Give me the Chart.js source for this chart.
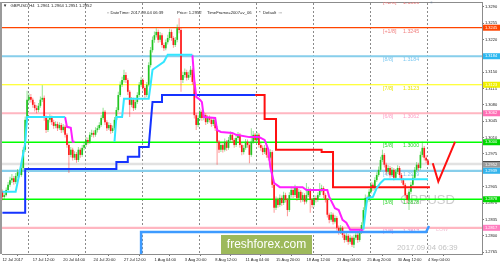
<!DOCTYPE html>
<html><head><meta charset="utf-8">
<script src="https://cdn.jsdelivr.net/npm/chart.js@4.4.1/dist/chart.umd.min.js"></script>
<style>html,body{margin:0;padding:0;background:#fff;overflow:hidden}canvas{display:block}</style>
</head><body>
<canvas id="c" width="500" height="266"></canvas>
<script>
// ---- GBPUSD H4 candles (bar index 0 = 12 Jul 2017 20:00) ----
const opens = [
1.2895,1.2883,1.2887,1.2898,1.2909,1.2919,1.2923,1.2915,1.2928,1.2936,
1.2930,1.2945,1.2984,1.3048,1.3091,1.3097,1.3091,1.3080,1.3073,1.3069,
1.3078,1.3091,1.3095,1.3052,1.3026,1.3048,1.3052,1.3043,1.3035,1.3039,
1.3030,1.3037,1.3026,1.3033,1.3016,1.2994,1.2973,1.2984,1.2967,1.2975,
1.2962,1.2984,1.2973,1.2988,1.2994,1.3005,1.3001,1.3016,1.3020,1.3016,
1.3026,1.3030,1.3037,1.3052,1.3065,1.3043,1.3030,1.3037,1.3024,1.3030,
1.3048,1.3069,1.3101,1.3123,1.3133,1.3144,1.3133,1.3108,1.3080,1.3091,
1.3073,1.3086,1.3101,1.3123,1.3133,1.3116,1.3101,1.3123,1.3165,1.3197,
1.3219,1.3229,1.3236,1.3219,1.3229,1.3208,1.3201,1.3214,1.3223,1.3236,
1.3223,1.3208,1.3219,1.3244,1.3240,1.3133,1.3144,1.3150,1.3138,1.3144,
1.3155,1.3129,1.3058,1.3037,1.3052,1.3065,1.3052,1.3058,1.3043,1.3052,
1.3048,1.3039,1.3048,1.3030,1.3001,1.2984,1.2994,1.2984,1.3001,1.2988,
1.3005,1.3016,1.3005,1.2994,1.3009,1.3016,1.2994,1.2979,1.2988,1.3001,
1.2994,1.2973,1.3001,1.3016,1.3005,1.3016,1.2994,1.2988,1.2979,1.2988,
1.2973,1.2967,1.2979,1.2909,1.2860,1.2877,1.2866,1.2881,1.2870,1.2887,
1.2877,1.2855,1.2887,1.2898,1.2887,1.2902,1.2881,1.2894,1.2877,1.2887,
1.2873,1.2887,1.2898,1.2877,1.2866,1.2881,1.2877,1.2887,1.2898,1.2902,
1.2887,1.2877,1.2845,1.2834,1.2845,1.2830,1.2838,1.2817,1.2808,1.2817,
1.2802,1.2791,1.2800,1.2787,1.2796,1.2781,1.2796,1.2802,1.2791,1.2808,
1.2823,1.2855,1.2881,1.2877,1.2894,1.2909,1.2902,1.2919,1.2930,1.2941,
1.2962,1.2973,1.2952,1.2937,1.2945,1.2930,1.2941,1.2924,1.2937,1.2945,
1.2930,1.2919,1.2909,1.2887,1.2877,1.2894,1.2909,1.2924,1.2941,1.2952,
1.2945,1.2973,1.2988,1.2967,1.2961];
const highs = [
1.2899,1.2892,1.2903,1.2915,1.2926,1.2932,1.2928,1.2934,1.2943,1.2941,
1.2951,1.2990,1.3055,1.3110,1.3105,1.3103,1.3095,1.3086,1.3079,1.3084,
1.3098,1.3122,1.3100,1.3057,1.3053,1.3060,1.3057,1.3048,1.3045,1.3044,
1.3043,1.3041,1.3039,1.3037,1.3020,1.2998,1.2990,1.2988,1.2981,1.2979,
1.2990,1.2988,1.2994,1.3001,1.3011,1.3010,1.3022,1.3027,1.3025,1.3032,
1.3036,1.3043,1.3058,1.3074,1.3069,1.3047,1.3043,1.3041,1.3036,1.3054,
1.3075,1.3108,1.3130,1.3140,1.3155,1.3150,1.3137,1.3112,1.3097,1.3095,
1.3092,1.3107,1.3129,1.3140,1.3137,1.3120,1.3129,1.3171,1.3204,1.3226,
1.3237,1.3244,1.3241,1.3236,1.3233,1.3213,1.3220,1.3230,1.3243,1.3241,
1.3227,1.3225,1.3252,1.3265,1.3245,1.3151,1.3158,1.3155,1.3151,1.3163,
1.3159,1.3133,1.3062,1.3058,1.3072,1.3069,1.3065,1.3062,1.3058,1.3057,
1.3052,1.3054,1.3052,1.3034,1.3005,1.3000,1.2998,1.3008,1.3005,1.3011,
1.3023,1.3020,1.3009,1.3015,1.3022,1.3020,1.2998,1.2994,1.3007,1.3006,
1.2998,1.3030,1.3024,1.3020,1.3022,1.3020,1.2999,1.2993,1.2994,1.2992,
1.2978,1.2985,1.2983,1.2913,1.2884,1.2882,1.2888,1.2886,1.2894,1.2892,
1.2881,1.2893,1.2905,1.2903,1.2909,1.2906,1.2900,1.2898,1.2893,1.2891,
1.2913,1.2905,1.2902,1.2881,1.2887,1.2886,1.2893,1.2913,1.2909,1.2906,
1.2891,1.2881,1.2849,1.2851,1.2849,1.2844,1.2842,1.2822,1.2823,1.2821,
1.2806,1.2806,1.2804,1.2802,1.2800,1.2802,1.2808,1.2806,1.2814,1.2829,
1.2861,1.2888,1.2886,1.2900,1.2915,1.2914,1.2925,1.2936,1.2948,1.2969,
1.2984,1.2977,1.2956,1.2951,1.2949,1.2947,1.2945,1.2943,1.2951,1.2949,
1.2934,1.2923,1.2913,1.2891,1.2900,1.2915,1.2930,1.2947,1.2958,1.2956,
1.2980,1.3001,1.2992,1.2972,1.2964];
const lows = [
1.2876,1.2878,1.2884,1.2894,1.2905,1.2913,1.2909,1.2911,1.2924,1.2925,
1.2926,1.2941,1.2979,1.3043,1.3084,1.3085,1.3074,1.3066,1.3062,1.3064,
1.3074,1.3086,1.3046,1.3020,1.3022,1.3042,1.3037,1.3029,1.3030,1.3024,
1.3026,1.3020,1.3021,1.3010,1.2988,1.2934,1.2968,1.2961,1.2962,1.2956,
1.2958,1.2967,1.2969,1.2983,1.2990,1.2995,1.2997,1.3011,1.3010,1.3012,
1.3021,1.3026,1.3033,1.3048,1.3037,1.3024,1.3026,1.3018,1.3020,1.3026,
1.3044,1.3065,1.3097,1.3118,1.3128,1.3127,1.3101,1.3054,1.3075,1.3067,
1.3069,1.3082,1.3097,1.3118,1.3110,1.3095,1.3097,1.3119,1.3160,1.3192,
1.3213,1.3224,1.3213,1.3214,1.3202,1.3195,1.3197,1.3209,1.3218,1.3217,
1.3202,1.3204,1.3214,1.3233,1.3108,1.3127,1.3138,1.3132,1.3133,1.3139,
1.3123,1.3051,1.3026,1.3032,1.3047,1.3046,1.3047,1.3037,1.3039,1.3042,
1.3033,1.3035,1.3024,1.2952,1.2977,1.2979,1.2978,1.2980,1.2982,1.2984,
1.3000,1.2999,1.2988,1.2990,1.3004,1.2988,1.2972,1.2974,1.2984,1.2988,
1.2955,1.2969,1.2997,1.2999,1.3001,1.2988,1.2982,1.2973,1.2975,1.2967,
1.2961,1.2963,1.2902,1.2849,1.2855,1.2860,1.2862,1.2864,1.2866,1.2871,
1.2842,1.2851,1.2882,1.2881,1.2883,1.2875,1.2877,1.2871,1.2873,1.2867,
1.2869,1.2883,1.2849,1.2860,1.2862,1.2871,1.2873,1.2883,1.2893,1.2881,
1.2871,1.2839,1.2827,1.2830,1.2824,1.2826,1.2811,1.2802,1.2804,1.2796,
1.2785,1.2787,1.2781,1.2783,1.2776,1.2774,1.2791,1.2785,1.2787,1.2804,
1.2819,1.2851,1.2871,1.2873,1.2890,1.2896,1.2898,1.2915,1.2926,1.2937,
1.2957,1.2946,1.2931,1.2932,1.2924,1.2926,1.2918,1.2920,1.2932,1.2924,
1.2913,1.2903,1.2881,1.2870,1.2855,1.2889,1.2905,1.2920,1.2937,1.2939,
1.2941,1.2968,1.2961,1.2955,1.2951];
const closes = [
1.2883,1.2887,1.2898,1.2909,1.2919,1.2923,1.2915,1.2928,1.2936,1.2930,
1.2945,1.2984,1.3048,1.3091,1.3097,1.3091,1.3080,1.3073,1.3069,1.3078,
1.3091,1.3095,1.3052,1.3026,1.3048,1.3052,1.3043,1.3035,1.3039,1.3030,
1.3037,1.3026,1.3033,1.3016,1.2994,1.2973,1.2984,1.2967,1.2975,1.2962,
1.2984,1.2973,1.2988,1.2994,1.3005,1.3001,1.3016,1.3020,1.3016,1.3026,
1.3030,1.3037,1.3052,1.3065,1.3043,1.3030,1.3037,1.3024,1.3030,1.3048,
1.3069,1.3101,1.3123,1.3133,1.3144,1.3133,1.3108,1.3080,1.3091,1.3073,
1.3086,1.3101,1.3123,1.3133,1.3116,1.3101,1.3123,1.3165,1.3197,1.3219,
1.3229,1.3236,1.3219,1.3229,1.3208,1.3201,1.3214,1.3223,1.3236,1.3223,
1.3208,1.3219,1.3244,1.3240,1.3133,1.3144,1.3150,1.3138,1.3144,1.3155,
1.3129,1.3058,1.3037,1.3052,1.3065,1.3052,1.3058,1.3043,1.3052,1.3048,
1.3039,1.3048,1.3030,1.3001,1.2984,1.2994,1.2984,1.3001,1.2988,1.3005,
1.3016,1.3005,1.2994,1.3009,1.3016,1.2994,1.2979,1.2988,1.3001,1.2994,
1.2973,1.3001,1.3016,1.3005,1.3016,1.2994,1.2988,1.2979,1.2988,1.2973,
1.2967,1.2979,1.2909,1.2860,1.2877,1.2866,1.2881,1.2870,1.2887,1.2877,
1.2855,1.2887,1.2898,1.2887,1.2902,1.2881,1.2894,1.2877,1.2887,1.2873,
1.2887,1.2898,1.2877,1.2866,1.2881,1.2877,1.2887,1.2898,1.2902,1.2887,
1.2877,1.2845,1.2834,1.2845,1.2830,1.2838,1.2817,1.2808,1.2817,1.2802,
1.2791,1.2800,1.2787,1.2796,1.2781,1.2796,1.2802,1.2791,1.2808,1.2823,
1.2855,1.2881,1.2877,1.2894,1.2909,1.2902,1.2919,1.2930,1.2941,1.2962,
1.2973,1.2952,1.2937,1.2945,1.2930,1.2941,1.2924,1.2937,1.2945,1.2930,
1.2919,1.2909,1.2887,1.2877,1.2894,1.2909,1.2924,1.2941,1.2952,1.2945,
1.2973,1.2988,1.2967,1.2961,1.2952];

// ---- axes ----
const xTickBars = [0,16,32,48,64,80,96,112,128,144,160,176,192,208,224];
const xTickLabels = ['12 Jul 2017','17 Jul 12:00','20 Jul 04:00','24 Jul 20:00','27 Jul 12:00','1 Aug 04:00','3 Aug 20:00','8 Aug 12:00','11 Aug 04:00','15 Aug 20:00','18 Aug 12:00','23 Aug 04:00','25 Aug 20:00','30 Aug 12:00','4 Sep 04:00'];
const gridBars = [13.5,43.5,73.5,103.5,133.5,163.5,193.5,223.5];
const yTicks = [1.3290,1.3255,1.3220,1.3185,1.3150,1.3115,1.3080,1.3045,1.3010,1.2975,1.2940,1.2905,1.2870,1.2835,1.2800,1.2765];

// ---- Murrey levels ----
const levelNames  = ['[+2/8]','[+1/8]','[8/8]','[7/8]','[6/8]','[5/8]','[4/8]','[3/8]','[2/8]'];
const levelValues = [1.3306,1.3245,1.3184,1.3123,1.3062,1.3000,1.2939,1.2878,1.2817];
const priceLines  = [1.2952,1.2955];
const currentPrice = 1.2952;

// ---- indicator lines (bar index / price) ----
const upLineBars = [0,7,9,12,13,33, 34, 59,60,63,64,77,78,79,85,87,100, 101, 190,192,195,197,199,201,224];
const upLineVals = [1.2894,1.2894,1.2934,1.2998,1.3054,1.3054, null, 1.3001,1.3054,1.3054,1.3093,1.3093,1.3123,1.3155,1.3172,1.3187,1.3187, null, 1.2813,1.2881,1.2883,1.2902,1.2913,1.2921,1.2921];
const downLineBars = [33,34,36,37,38, 39, 100,101,102,104,105,106,112,113,115,121,123,130,135,138,140,141,143,146,158,160,171,172,175,177,179,181,183,190];
const downLineVals = [1.3054,1.3033,1.3031,1.3001,1.3001, null, 1.3187,1.3133,1.3097,1.3091,1.3086,1.3054,1.3052,1.3026,1.3022,1.3020,1.3016,1.3011,1.3011,1.3005,1.2984,1.2947,1.2913,1.2904,1.2904,1.2898,1.2898,1.2883,1.2859,1.2855,1.2834,1.2828,1.2813,1.2813];
const supportBars = [0,12,12,60,60,66,66,72,72,77,79,84,84,133];
const supportVals = [1.2849,1.2849,1.2943,1.2943,1.2958,1.2958,1.2969,1.2969,1.2990,1.2990,1.3086,1.3086,1.3101,1.3101];
const resistBars = [133,138,138,144,144,168,168,174,174,225];
const resistVals = [1.3101,1.3101,1.3050,1.3050,1.2984,1.2984,1.2979,1.2979,1.2904,1.2904];
const lowBandBars = [73,73,223,224.5];
const lowBandVals = [1.2740,1.2808,1.2808,1.2821];
const projBars = [226.5,229.4,238.2];
const projVals = [1.2955,1.2916,1.3001];

// ---- styles ----
const levelLineColors = ['#ff4500','#ff4500','#87ceeb','#ffff00','#ffb6c1','#00ff00','#87ceeb','#00ff00','#ffb6c1'];
const levelLineWidths = [1.3,1.3,2.2,1.2,2.2,1.4,2.2,1.4,2.2];
const levelTextColors = ['#f08080','#f08080','#7cc8f0','#e8e800','#ff9cc4','#33d633','#7cc8f0','#33d633','#e890d0'];
const axisMarkValues = [1.3245,1.3184,1.3123,1.3062,1.3000,1.2952,1.2939,1.2878,1.2817];
const axisMarkColors = ['#ff4500','#2cb8f0','#f0f000','#ff6fb5','#00d800','#9a9a9a','#33b4ec','#00d800','#ff7fc0'];

Chart.defaults.font.family = '"Liberation Sans", "DejaVu Sans", Arial, sans-serif';

const GREEN = '#22c522', RED = '#ff1a1a';
const bodyColors = closes.map((c,i) => c >= opens[i] ? GREEN : RED);
const wickColors = closes.map((c,i) => c >= opens[i] ? 'rgba(40,200,40,0.5)' : 'rgba(255,50,50,0.5)');
const pts = (xs, ys) => xs.map((x,i) => ({x, y: ys[i]}));
const lineDs = (data, color, width, order) => ({type:'line', data, borderColor:color, borderWidth:width, pointRadius:0, pointHoverRadius:0, fill:false, tension:0, spanGaps:false, order, clip:0});

const datasets = [];
levelValues.forEach((v,i) => datasets.push(lineDs([{x:-2,y:v},{x:260,y:v}], levelLineColors[i], levelLineWidths[i], 30)));
priceLines.forEach(v => datasets.push(lineDs([{x:-2,y:v},{x:260,y:v}], '#d2d2d2', 0.8, 29)));
datasets.push({type:'bar', data: highs.map((h,i) => ({x:i, y:[lows[i], h]})), backgroundColor: wickColors, barThickness:1, grouped:false, inflateAmount:0, order:21, clip:0});
datasets.push({type:'bar', data: closes.map((c,i) => ({x:i, y:[opens[i], c]})), backgroundColor: bodyColors, barThickness:1.7, grouped:false, inflateAmount:0, order:20, clip:0});
datasets.push(lineDs(pts(lowBandBars, lowBandVals), '#3d9bff', 2.5, 6));
datasets.push(lineDs(pts(supportBars, supportVals), '#1533ff', 2, 5));
datasets.push(lineDs(pts(resistBars, resistVals), '#ff1010', 2, 5));
datasets.push(lineDs(pts(upLineBars, upLineVals), '#33e6ff', 2, 4));
datasets.push(lineDs(pts(downLineBars, downLineVals), '#ff1fff', 2, 4));
datasets.push(lineDs(pts(projBars, projVals), '#ff1010', 2, 3));

const zeroPad = s => { s.paddingLeft = s.paddingRight = s.paddingTop = s.paddingBottom = 0; };

const drawPlugin = {
  id: 'mt4',
  beforeDraw(c) {
    const ctx = c.ctx; ctx.save(); ctx.fillStyle = '#fff'; ctx.fillRect(0,0,c.width,c.height); ctx.restore();
  },
  beforeDatasetsDraw(c) {
    const ctx = c.ctx, y = c.scales.y, a = c.chartArea;
    ctx.save();
    ctx.beginPath(); ctx.rect(a.left, a.top, a.right - a.left, a.bottom - a.top); ctx.clip();
    ctx.textBaseline = 'middle'; ctx.textAlign = 'left';
    ctx.fillStyle = '#cdcdcd'; ctx.font = '13px "Liberation Sans"';
    ctx.fillText('GBPUSD', 400, 200);
    ctx.fillStyle = '#c2c2c2'; ctx.font = '7.8px "Liberation Sans"';
    ctx.fillText('2017.09.04 06:39', 397, 248);
    ctx.font = '5.3px "Liberation Sans"';
    levelValues.forEach((v,i) => {
      const py = y.getPixelForValue(v) + 3.6;
      ctx.fillStyle = levelTextColors[i];
      ctx.fillText(levelNames[i], 383, py);
      ctx.fillText(v.toFixed(4), 403, py);
    });
    ctx.fillStyle = '#f0c4d6';
    ctx.fillText('LOW', 436, y.getPixelForValue(1.2817) + 1.5);
    ctx.restore();
  },
  afterDraw(c) {
    const ctx = c.ctx, y = c.scales.y, a = c.chartArea;
    ctx.save();
    // left frame
    ctx.fillStyle = '#9a9a9a'; ctx.fillRect(0, a.top, 2, a.bottom - a.top);
    // header texts
    ctx.textBaseline = 'middle'; ctx.textAlign = 'left';
    ctx.fillStyle = '#1e1e1e'; ctx.font = '4.2px "Liberation Sans", "DejaVu Sans"';
    ctx.fillText('\u25BC', 3, 5.7);
    ctx.fillText('GBPUSD,H4  1.2961 1.2964 1.2951 ' + currentPrice.toFixed(4), 10.5, 5.7);
    ctx.fillText(':: DateTime: 2017.09.04 06:39', 107, 12.7);
    ctx.fillText('Price: ' + currentPrice.toFixed(4), 177, 12.7);
    ctx.fillText('TimeFrame=2007=v_06', 207, 12.7);
    ctx.fillText('*  Default  :::', 259, 12.7);
    ctx.fillStyle = '#6a7a90'; ctx.font = '5px "DejaVu Sans"';
    ctx.fillText('*', 430, 3.5);
    // right axis marks
    ctx.font = '4px "Liberation Sans"';
    axisMarkValues.forEach((v,i) => {
      const py = y.getPixelForValue(v);
      ctx.fillStyle = axisMarkColors[i];
      ctx.fillRect(a.right + 1, py - 3, 18, 6);
      if (v === currentPrice) { ctx.fillStyle = '#222'; ctx.fillRect(a.right + 1, py - 3.5, 18, 0.8); }
      ctx.fillStyle = '#ffffff';
      ctx.fillText(v.toFixed(4), a.right + 3, py);
    });
    // logo
    ctx.fillStyle = '#9db95b';
    ctx.fillRect(221, 235, 91, a.bottom - 235);
    ctx.fillStyle = '#ffffff'; ctx.font = '12px "Liberation Sans"'; ctx.textAlign = 'center';
    ctx.fillText('freshforex.com', 266.5, 244.8);
    ctx.restore();
  }
};

new Chart(document.getElementById('c'), {
  type: 'line',
  data: { datasets },
  options: {
    responsive: false, animation: false, devicePixelRatio: 1,
    layout: { padding: { left: 2, top: 2, right: 0, bottom: 0 } },
    plugins: { legend: { display: false }, tooltip: { enabled: false } },
    events: [],
    scales: {
      x: {
        type: 'linear', position: 'bottom', min: -0.2, max: 252.4, offset: false,
        afterBuildTicks: s => { s.ticks = xTickBars.map(v => ({value: v})); },
        afterFit: s => { s.height = 12; zeroPad(s); },
        ticks: { autoSkip: false, maxRotation: 0, minRotation: 0, align: 'start', padding: 1, color: '#222', font: { size: 4 }, callback: (v, i) => xTickLabels[i] },
        grid: { drawOnChartArea: false, drawTicks: true, tickLength: 2, color: '#777' },
        border: { display: true, color: '#8c8c8c' }
      },
      xg: {
        type: 'linear', position: 'top', min: -0.2, max: 252.4, offset: false,
        afterBuildTicks: s => { s.ticks = gridBars.map(v => ({value: v})); },
        afterFit: s => { s.height = 0; zeroPad(s); },
        ticks: { display: false },
        grid: { color: '#8a8a8a', lineWidth: 1, drawTicks: false },
        border: { display: true, color: '#8c8c8c', dash: [2, 2] }
      },
      y: {
        type: 'linear', position: 'right', min: 1.2761, max: 1.3300,
        afterBuildTicks: s => { s.ticks = yTicks.map(v => ({value: v})); },
        afterFit: s => { s.width = 18; zeroPad(s); },
        ticks: { autoSkip: false, padding: 1, color: '#222', font: { size: 4 }, callback: v => Number(v).toFixed(4) },
        grid: { drawOnChartArea: false, drawTicks: true, tickLength: 2, color: '#777' },
        border: { display: true, color: '#8c8c8c' }
      }
    }
  },
  plugins: [drawPlugin]
});
</script>
</body></html>
